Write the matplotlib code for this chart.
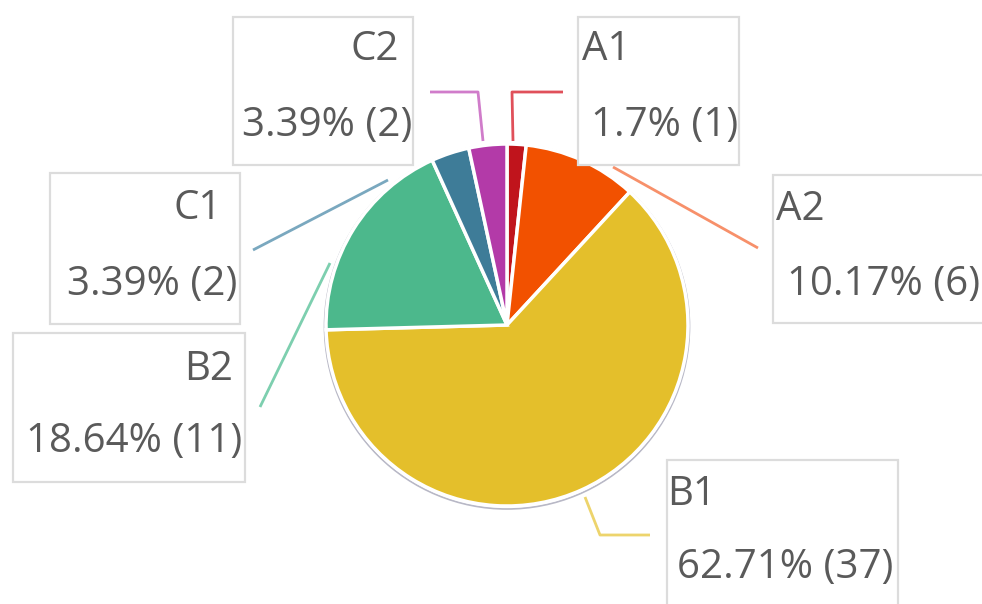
import matplotlib.pyplot as plt
from matplotlib.patches import Rectangle, Circle

# --- data ---
labels = ["A1", "A2", "B1", "B2", "C1", "C2"]
counts = [1, 6, 37, 11, 2, 2]
pct_labels = ["1.7%", "10.17%", "62.71%", "18.64%", "3.39%", "3.39%"]

colors = ["#C0141C", "#F25100", "#E4BF2B", "#4CB88C", "#3E7C98", "#B33AA8"]
line_colors = ["#E0505A", "#F7906A", "#EDD46C", "#7DCFAF", "#7AA8BF", "#D07CCA"]

W, H = 982, 604
CX, CY, R = 507, 325, 181


def Y(py):
    return H - py


plt.rcParams["font.family"] = ["Open Sans", "DejaVu Sans"]

fig = plt.figure(figsize=(W / 100, H / 100), dpi=100)
ax = fig.add_axes([0, 0, 1, 1])

# faint outline under the pie
ax.add_patch(Circle((CX, Y(CY) - 1.5), R + 1.5, facecolor="none",
                    edgecolor="#B8B8C6", lw=1.2, zorder=1))

ax.pie(counts, colors=colors, startangle=90, counterclock=False,
       center=(CX, Y(CY)), radius=R,
       wedgeprops=dict(edgecolor="white", linewidth=2.5), frame=True)

# --- label boxes: (x0, y0, x1, y1) in pixels, alignment, name x, value x ---
boxes = {
    "A1": ((578, 17, 739, 165), "left", 582, 591),
    "A2": ((773, 175, 1000, 323), "left", 776, 787),
    "B1": ((667, 460, 898, 640), "left", 667, 677),
    "B2": ((13, 333, 245, 482), "right", 233, 242),
    "C1": ((50, 173, 240, 324), "right", 222, 237),
    "C2": ((233, 17, 413, 165), "right", 399, 412),
}
name_y = {"A1": 50, "A2": 210, "B1": 495, "B2": 370, "C1": 209, "C2": 50}
val_y = {"A1": 126, "A2": 285, "B1": 568, "B2": 442, "C1": 285, "C2": 126}

# leader lines (pixel points)
leaders = {
    "A1": [(513, 141), (512, 92), (563, 92)],
    "A2": [(613, 167), (758, 248)],
    "B1": [(585, 497), (600, 535), (650, 535)],
    "B2": [(330, 263), (260, 407)],
    "C1": [(388, 180), (253, 250)],
    "C2": [(483, 141), (478, 92), (430, 92)],
}

for i, lab in enumerate(labels):
    (x0, y0, x1, y1), ha, nx, vx = boxes[lab]
    ax.add_patch(Rectangle((x0, Y(y1)), x1 - x0, y1 - y0, facecolor="white",
                           edgecolor="#DCDCDC", lw=1.6, zorder=3))
    ax.text(nx, Y(name_y[lab]), lab, ha=ha, va="center", fontsize=29,
            color="#5A5A5A", zorder=4)
    ax.text(vx, Y(val_y[lab]), f"{pct_labels[i]} ({counts[i]})", ha=ha,
            va="center", fontsize=29, color="#5A5A5A", zorder=4)
    pts = leaders[lab]
    ax.plot([p[0] for p in pts], [Y(p[1]) for p in pts],
            color=line_colors[i], lw=2, zorder=2, solid_capstyle="butt")

ax.set_xlim(0, W)
ax.set_ylim(0, H)
ax.set_aspect("equal")
ax.axis("off")

plt.savefig("out.png", dpi=100)
plt.close()
